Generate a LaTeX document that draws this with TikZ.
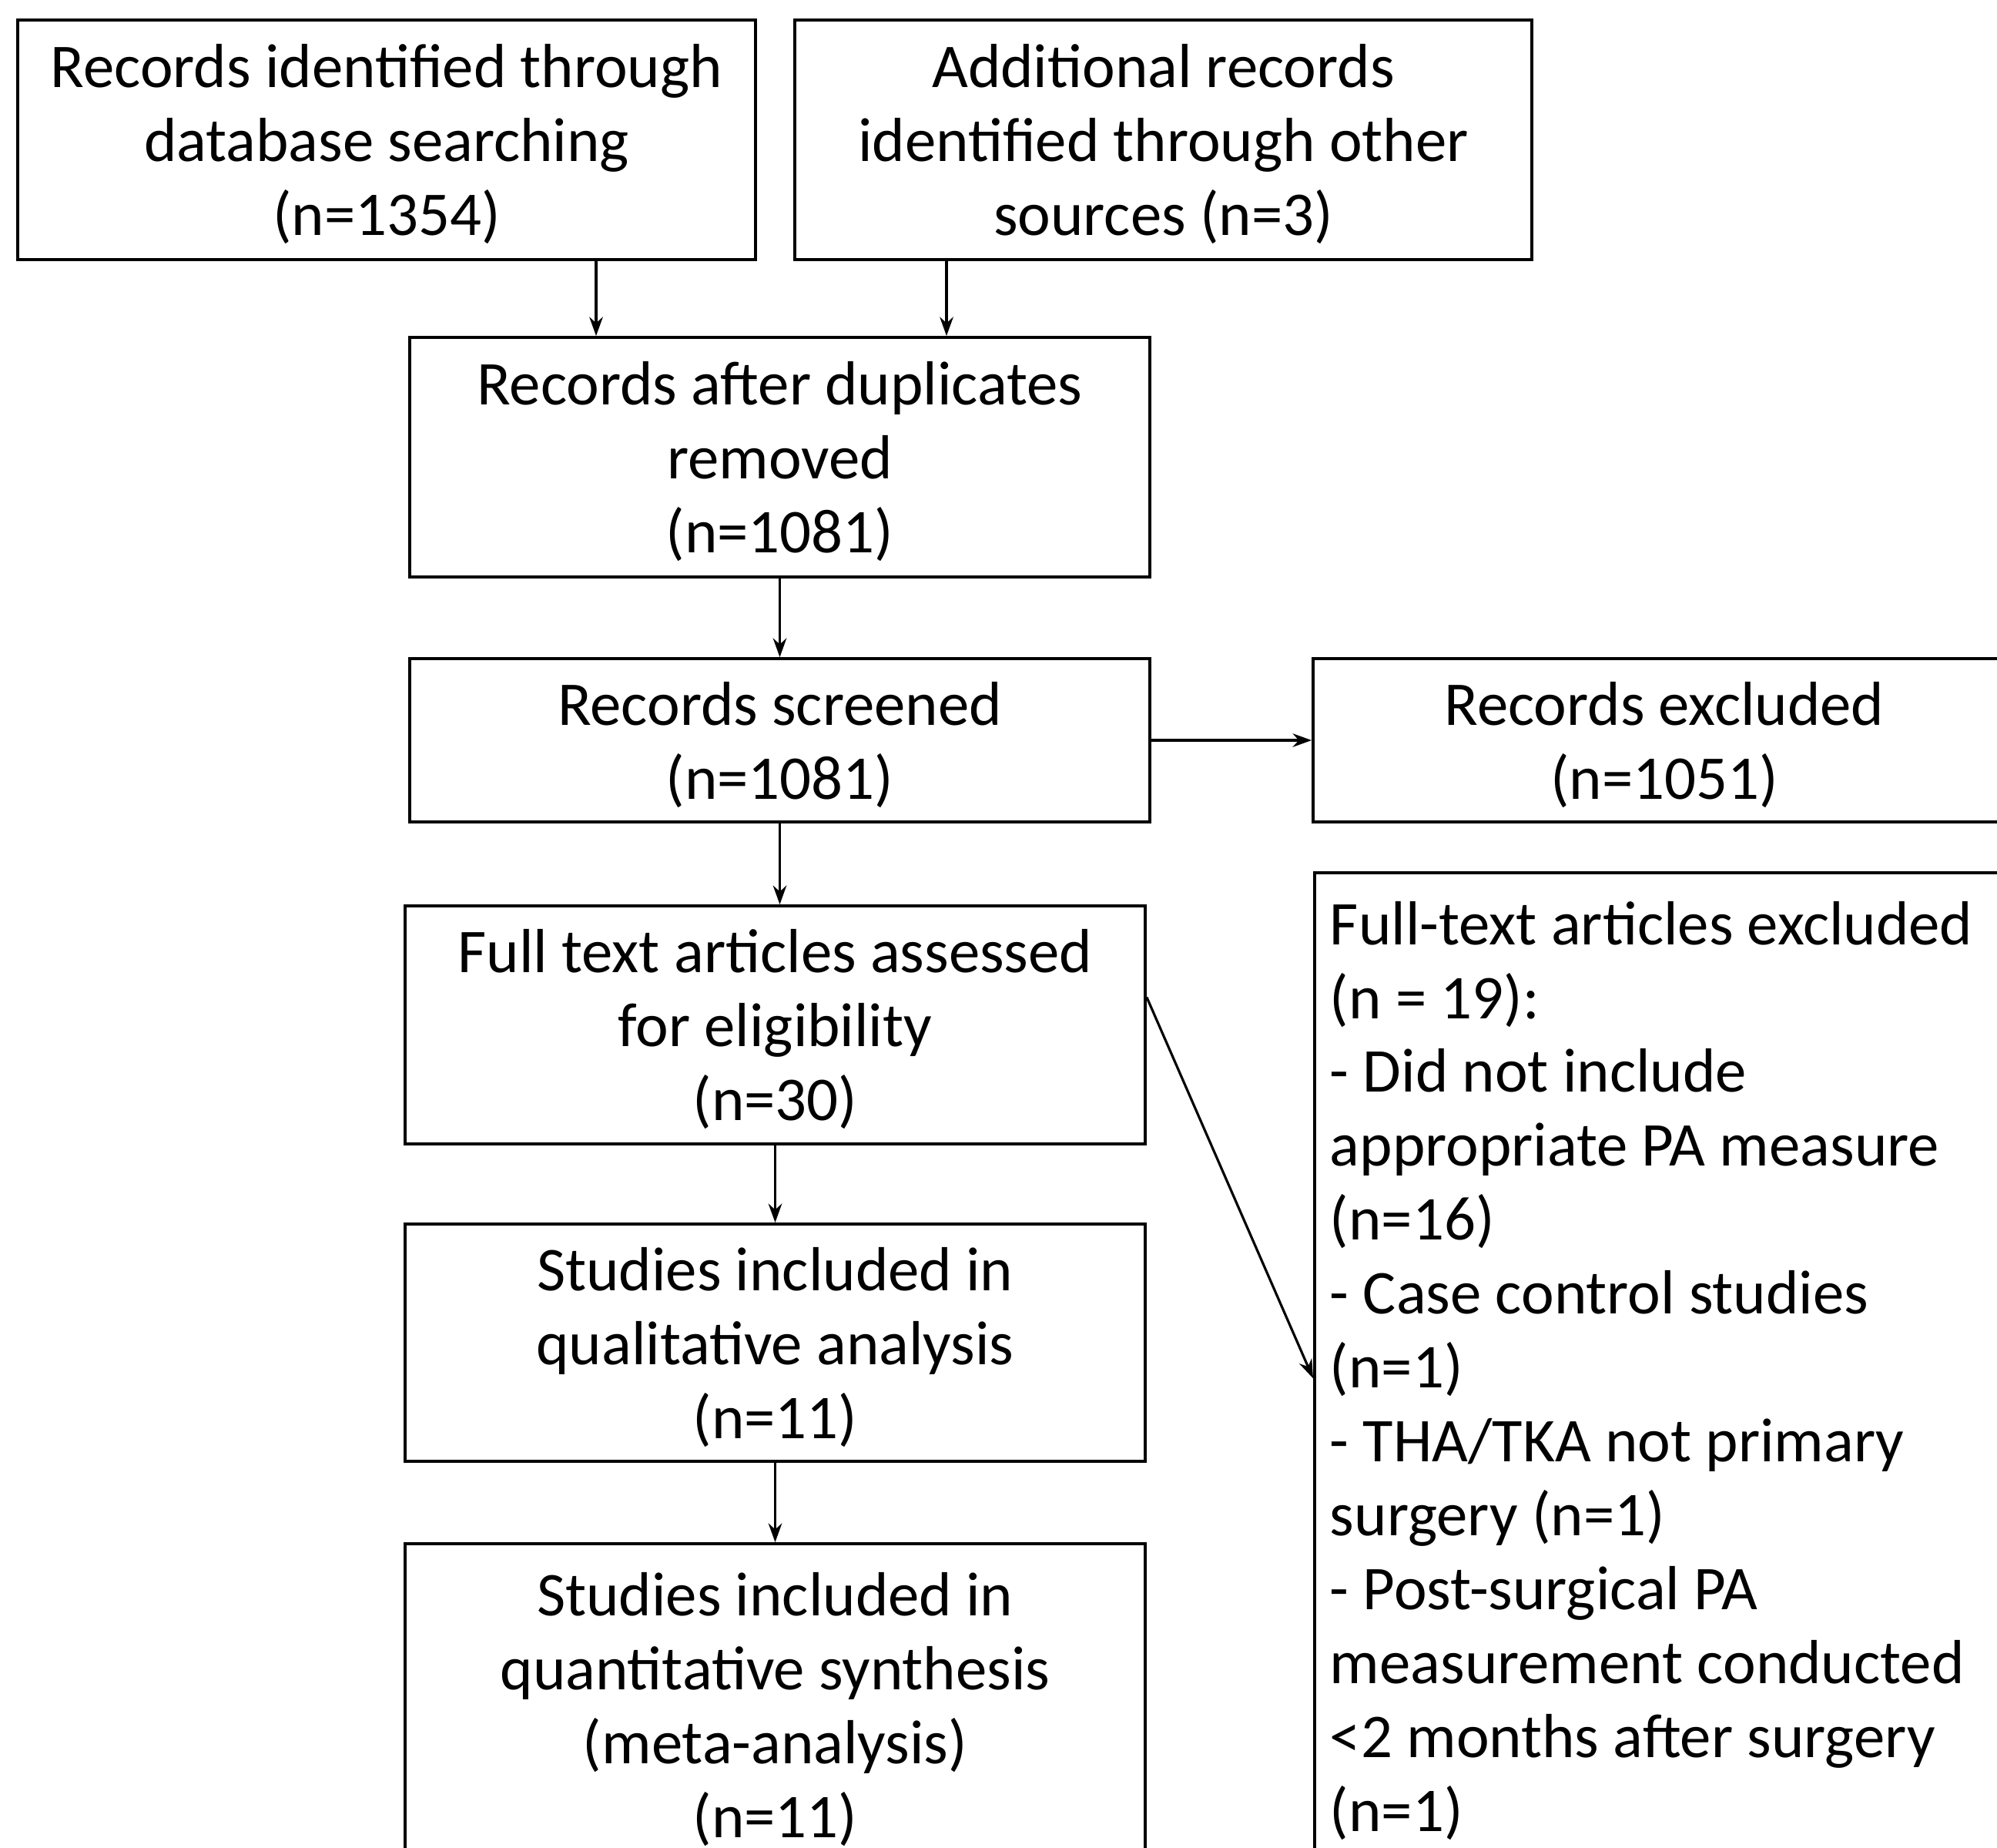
\documentclass[tikz,border=0pt]{standalone}
\usepackage{fontspec}
\setmainfont{Carlito}
\usepackage{tikz}
\usetikzlibrary{arrows,arrows.meta,calc}
\usetikzlibrary{positioning}

\begin{document}
\begin{tikzpicture}
\tikzstyle{box}=[draw,line width=1.1pt,align=center,inner sep=0pt,text depth=0pt,font=\fontsize{23}{27.3}\selectfont]
\tikzstyle{flow}=[-{Stealth[length=7pt,width=5pt]},line width=0.9pt]
\useasboundingbox (0,0) rectangle (25.93,-23.98);
\clip (0,0) rectangle (25.93,-23.98);

\node[box,minimum width=9.58cm,minimum height=3.11cm] (ident) at (5.02,-1.815) {Records identified through\\database searching\\(n=1354)};
\node[box,minimum width=9.57cm,minimum height=3.11cm] (other) at (15.105,-1.815) {Additional records\\identified through other\\sources (n=3)};
\node[box,minimum width=9.61cm,minimum height=3.11cm] (dupl) at (10.125,-5.935) {Records after duplicates\\removed\\(n=1081)};
\node[box,minimum width=9.61cm,minimum height=2.12cm] (screen) at (10.125,-9.61) {Records screened\\(n=1081)};
\node[box,minimum width=9.12cm,minimum height=2.12cm] (excl) at (21.61,-9.61) {Records excluded\\(n=1051)};
\node[box,minimum width=9.61cm,minimum height=3.09cm] (full) at (10.065,-13.305) {Full text articles assessed\\for eligibility\\(n=30)};
\node[box,minimum width=9.61cm,minimum height=3.08cm] (qual) at (10.065,-17.43) {Studies included in\\qualitative analysis\\(n=11)};
\node[box,minimum width=9.61cm,minimum height=4.18cm] (quant) at (10.065,-22.13) {Studies included in\\quantitative synthesis\\(meta-analysis)\\(n=11)};
\node[box,align=flush left,text depth=,anchor=north west,text width=8.7cm,inner xsep=0.2cm,inner ysep=0.37cm] (fullex) at (17.05,-11.31) {Full-text articles excluded\\(n = 19):\\- Did not include\\appropriate PA measure\\(n=16)\\- Case control studies\\(n=1)\\- THA/TKA not primary\\surgery (n=1)\\- Post-surgical PA\\measurement conducted\\<2 months after surgery\\(n=1)};

\draw[flow] ([xshift=2.72cm]ident.south) -- ([xshift=2.72cm]ident.south |- dupl.north);
\draw[flow] ([xshift=-2.815cm]other.south) -- ([xshift=-2.815cm]other.south |- dupl.north);
\draw[flow] (dupl.south) -- (screen.north);
\draw[flow] (screen.east) -- (excl.west);
\draw[flow] (screen.south) -- (screen.south |- full.north);
\draw[flow] ([yshift=0.36cm]full.east) -- ([yshift=-0.1cm]fullex.west);
\draw[flow] (full.south) -- (qual.north);
\draw[flow] (qual.south) -- (quant.north);
\end{tikzpicture}
\end{document}
